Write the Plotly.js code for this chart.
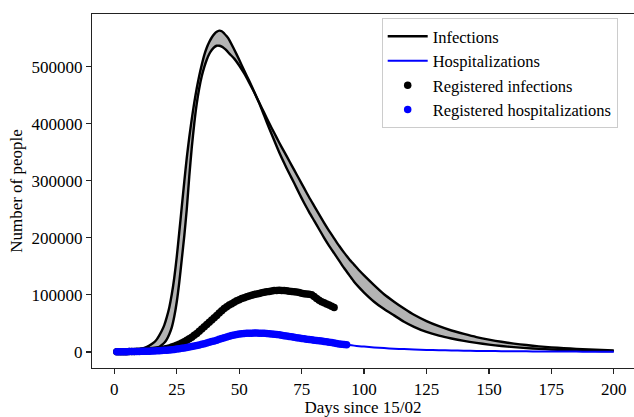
<!DOCTYPE html>
<html>
<head>
<meta charset="utf-8">
<script src="https://cdn.plot.ly/plotly-3.0.1.min.js"></script>
<style>html,body{margin:0;padding:0;background:#fff}#chart{width:634px;height:417px}</style>
</head>
<body>
<div id="chart"></div>
<script>
// Model time grid (days since 15/02)
const modelDays = [1,4,7,10,12,14,16,17,18,19,20,21,22,23,24,25,26,27,28,29,30,31,32,33,34,35,36,37,38,39,40,41,42,43,44,45,46,48,50,52,54,56,58,60,62,64,66,68,70,72,74,76,78,80,82,84,86,88,90,92,94,96,98,100,104,108,112,116,120,125,130,135,140,145,150,155,160,165,170,175,180,185,190,195,200];

// Infections, scenario bound A (earlier rise, higher peak)
const infectionsA = [1000,1500,2500,4500,7000,11000,17000,22000,29000,37000,47000,61000,78000,101000,130000,167000,210000,254000,298000,340000,376000,408000,437000,462000,484000,503000,520000,533000,543000,551000,557000,561000,563000,562000,558000,553000,547000,530000,512000,493000,475000,456000,436000,414000,392000,371000,350000,331000,313000,296000,278000,261000,245000,230000,215000,200000,186000,173000,160000,147000,135000,123000,113000,104000,88000,75000,64000,53000,44000,35000,28500,23500,19300,15800,12800,10300,8300,6700,5400,4300,3400,2700,2100,1700,1300];

// Infections, scenario bound B (later rise, lower peak, slower decay)
const infectionsB = [500,700,1000,1500,2200,3500,5500,7000,9000,12000,16000,22000,31000,43000,62000,88000,122000,162000,203000,250000,307000,358000,400000,435000,462000,483000,499000,512000,522000,529000,534000,536500,536500,535000,532000,528000,523000,514000,502000,488000,472000,455000,437000,419000,401000,384000,367000,351000,335000,319000,303000,287000,271000,256000,241000,226000,212000,199000,186000,174000,163000,153000,143000,134000,117000,101000,88000,76000,65000,54000,45000,37500,31500,26000,21500,17700,14600,12000,9800,8000,6500,5300,4300,3400,2700];

// Hospitalizations model
const hospitalizations = [100,300,600,900,1200,1500,1900,2100,2400,2700,3000,3400,3900,4400,4900,5500,6200,6900,7700,8500,9300,10300,11300,12300,13400,14500,15700,16900,18100,19300,20500,22000,23500,25000,26300,27500,28600,30500,31800,32500,32900,33000,32800,32500,31900,31000,29900,28500,27000,25700,24300,22900,21700,20500,19500,18300,17000,15500,14000,13000,12000,11000,10100,9300,7900,6700,5700,4900,4200,3500,2900,2500,2100,1800,1500,1300,1100,950,800,700,600,520,450,400,350];

// Registered infections, days 1..88
const regInfDays = Array.from({length: 88}, (_, i) => i + 1);
const registeredInfections = [100,150,200,300,400,500,650,800,1000,1200,1400,1650,1900,2200,2500,2900,3300,3800,4400,5000,5900,7000,8400,10000,11700,13500,15600,18000,20400,23000,25800,29000,32400,36000,40000,44000,48000,52000,56000,60000,64000,68000,72000,76000,79000,82000,84500,87000,89500,91500,93500,95000,96500,98000,99300,100500,101500,102500,103500,104500,105300,106000,106800,107500,107800,108000,107800,107500,107000,106500,106000,105500,104800,104000,103000,102000,101500,101000,100000,97000,93500,90500,88000,86000,84000,82000,80000,78000];

// Registered hospitalizations, days 1..93
const regHospDays = Array.from({length: 93}, (_, i) => i + 1);
const registeredHospitalizations = [100,150,200,300,400,500,600,700,800,900,1000,1100,1200,1350,1500,1700,1900,2150,2400,2700,3000,3400,3900,4400,4900,5500,6200,6900,7700,8500,9300,10300,11300,12300,13400,14500,15700,16900,18100,19300,20500,22000,23500,25000,26300,27500,28600,29600,30500,31200,31800,32200,32500,32800,32900,33000,33000,32800,32700,32500,32200,31900,31500,31000,30500,29900,29200,28500,27800,27000,26400,25700,25000,24300,23600,22900,22300,21700,21100,20500,20000,19500,18900,18300,17700,17000,16300,15500,14800,14000,13500,13000,12500];

const xTicks = [0,25,50,75,100,125,150,175,200];
const yTicks = [0,100000,200000,300000,400000,500000];

const fontFamily = 'Liberation Serif';

const traces = [
  {x: modelDays, y: infectionsA, name: 'Infections', mode: 'lines',
   line: {color: '#000000', width: 2.4, shape: 'spline', smoothing: 0.6}},
  {x: modelDays, y: infectionsB, name: 'Infections (bound)', mode: 'lines', showlegend: false,
   fill: 'tonexty', fillcolor: '#b3b3b3',
   line: {color: '#000000', width: 2.4, shape: 'spline', smoothing: 0.6}},
  {x: modelDays, y: hospitalizations, name: 'Hospitalizations', mode: 'lines',
   line: {color: '#0000ff', width: 2, shape: 'spline', smoothing: 0.6}},
  {x: regInfDays, y: registeredInfections, name: 'Registered infections', mode: 'markers',
   marker: {color: '#000000', size: 7.5}},
  {x: regHospDays, y: registeredHospitalizations, name: 'Registered hospitalizations', mode: 'markers',
   marker: {color: '#0000ff', size: 7.5}}
];

const layout = {
  width: 634, height: 417,
  margin: {l: 92, r: 0, t: 14, b: 48.6, pad: 0},
  paper_bgcolor: '#ffffff', plot_bgcolor: '#ffffff',
  font: {family: fontFamily, size: 17, color: '#000000'},
  showlegend: true,
  legend: {
    x: 0.5345, y: 0.9887, xanchor: 'left', yanchor: 'top',
    traceorder: 'normal',
    bgcolor: 'rgba(255,255,255,0.8)', bordercolor: '#cccccc', borderwidth: 1,
    font: {family: fontFamily, size: 16.5, color: '#000000'},
    itemwidth: 40, tracegroupgap: 0
  },
  xaxis: {
    range: [-8.95, 208.1], tickvals: xTicks, ticktext: xTicks.map(String),
    showgrid: false, zeroline: false, showline: true, mirror: true,
    linecolor: '#222222', linewidth: 1.2,
    ticks: 'outside', ticklen: 5, tickwidth: 1.2, tickcolor: '#222222',
    tickfont: {family: fontFamily, size: 17, color: '#000000'},
    title: {text: 'Days since 15/02', font: {family: fontFamily, size: 17, color: '#000000'}, standoff: 3}
  },
  yaxis: {
    range: [-28200, 592200], tickvals: yTicks, ticktext: yTicks.map(String),
    showgrid: false, zeroline: false, showline: true, mirror: false,
    linecolor: '#222222', linewidth: 1.2,
    ticks: 'outside', ticklen: 5, tickwidth: 1.2, tickcolor: '#222222',
    tickfont: {family: fontFamily, size: 17, color: '#000000'},
    title: {text: 'Number of people', font: {family: fontFamily, size: 17, color: '#000000'}, standoff: 4}
  }
};

Plotly.newPlot('chart', traces, layout, {staticPlot: true, displayModeBar: false});
</script>
</body>
</html>
